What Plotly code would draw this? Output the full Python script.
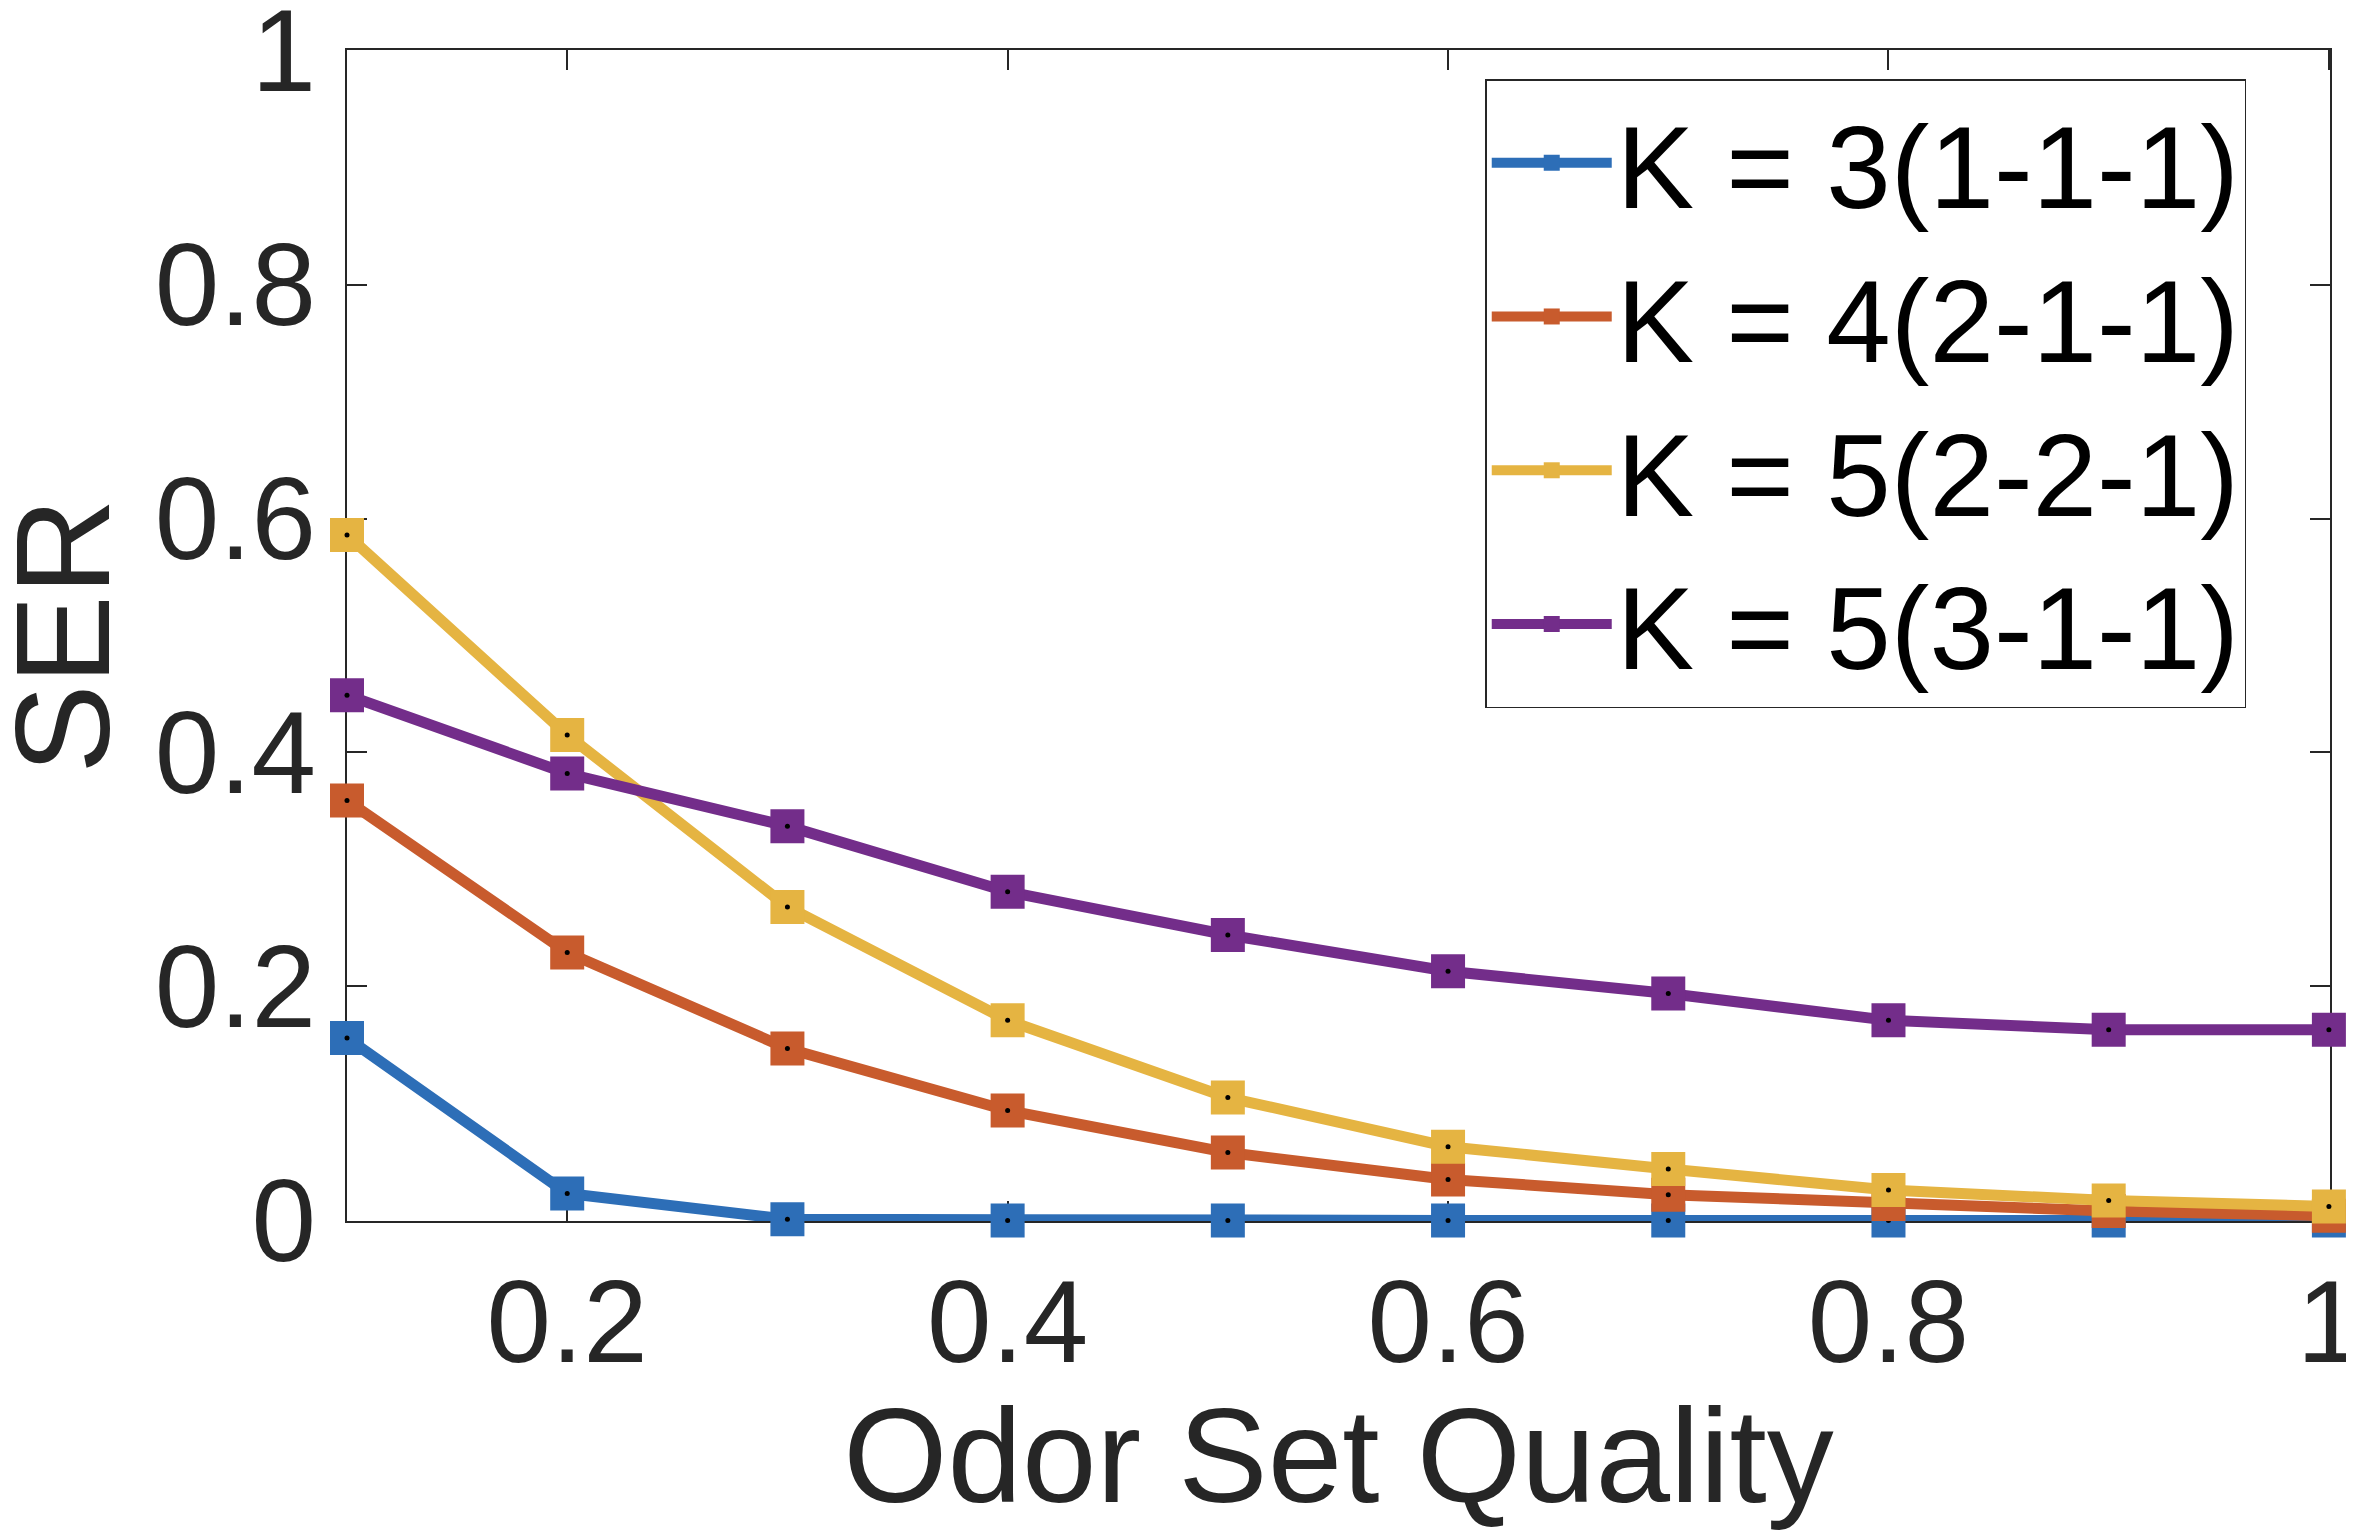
import plotly.graph_objects as go

# odor set quality on x, symbol error rate on y
quality = [0.1, 0.2, 0.3, 0.4, 0.5, 0.6, 0.7, 0.8, 0.9, 1.0]

ser_k3_111 = [0.156, 0.023, 0.001, 0.0, 0.0, 0.0, 0.0, 0.0, 0.0, 0.0]
ser_k4_211 = [0.359, 0.229, 0.147, 0.094, 0.058, 0.035, 0.022, 0.014, 0.008, 0.004]
ser_k5_221 = [0.586, 0.415, 0.268, 0.171, 0.105, 0.063, 0.044, 0.026, 0.017, 0.012]
ser_k5_311 = [0.449, 0.382, 0.337, 0.281, 0.244, 0.213, 0.194, 0.171, 0.163, 0.163]

series_names = ["K = 3(1-1-1)", "K = 4(2-1-1)", "K = 5(2-2-1)", "K = 5(3-1-1)"]
series_values = [ser_k3_111, ser_k4_211, ser_k5_221, ser_k5_311]
series_colors = ["#2D6EB7", "#C85B2D", "#E5B442", "#732D8A"]

x_ticks = [0.2, 0.4, 0.6, 0.8, 1.0]
y_ticks = [0, 0.2, 0.4, 0.6, 0.8, 1.0]

FONT = "Liberation Sans, Arial, Helvetica, sans-serif"

fig = go.Figure()

for name, vals, col in zip(series_names, series_values, series_colors):
    fig.add_trace(go.Scatter(
        x=quality, y=vals, name=name,
        mode="lines+markers",
        line=dict(color=col, width=11),
        marker=dict(symbol="square", size=34, color=col),
        cliponaxis=False,
    ))
    # little black dot in the middle of every marker
    fig.add_trace(go.Scatter(
        x=quality, y=vals, mode="markers", showlegend=False, hoverinfo="skip",
        marker=dict(symbol="circle", size=5, color="black"),
        cliponaxis=False,
    ))

axis_common = dict(
    showline=True, linecolor="#262626", linewidth=1.5, mirror="ticks",
    ticks="inside", ticklen=20, tickwidth=1.5, tickcolor="#262626",
    showgrid=False, zeroline=False, layer="below traces", automargin=False,
    ticklabeloverflow="allow",
    tickfont=dict(family=FONT, size=116, color="#262626"),
)

fig.update_xaxes(
    range=[0.1, 1.0005], tickvals=x_ticks, ticktext=["0.2", "0.4", "0.6", "0.8", "1"],
    ticklabelstandoff=0,
    title=dict(text="Odor Set Quality", font=dict(family=FONT, size=134, color="#262626"), standoff=53),
    **axis_common,
)
fig.update_yaxes(
    range=[-0.0005, 1.0005], tickvals=y_ticks, ticktext=["0", "0.2", "0.4", "0.6", "0.8", "1"],
    ticklabelstandoff=6,
    **axis_common,
)

# y title placed by hand in paper coords (the axis title gets squeezed by the margin)
fig.add_annotation(
    text="SER", textangle=-90, showarrow=False,
    xref="paper", yref="paper", x=-0.105, y=0.5, xanchor="right", yanchor="middle",
    font=dict(family=FONT, size=134, color="#262626"),
)

fig.update_layout(
    width=2346, height=1522,
    margin=dict(l=339, r=24, t=42, b=309),
    paper_bgcolor="white", plot_bgcolor="white",
    showlegend=True,
    legend=dict(
        x=0.574, y=0.975, xanchor="left", yanchor="top",
        bgcolor="white", bordercolor="#262626", borderwidth=1.5,
        font=dict(family=FONT, size=116, color="black"),
        itemwidth=120, itemsizing="trace",
    ),
)

fig.write_html("out.html")
